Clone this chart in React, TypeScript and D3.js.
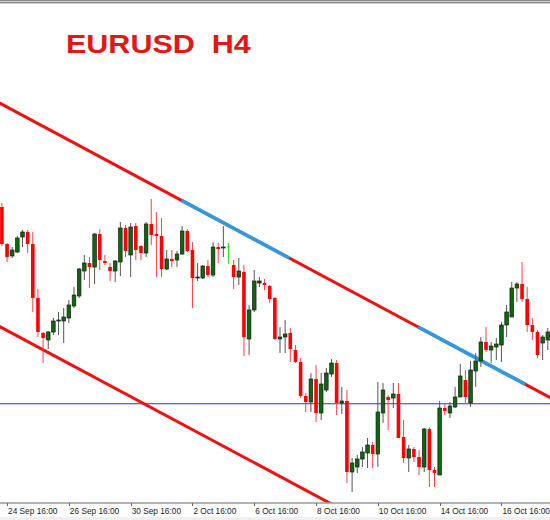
import React from "react";
import * as d3 from "d3";

// ---- data (EURUSD H4 candles) ----
const opens = [1.1793,1.1756,1.1744,1.1748,1.1763,1.1768,1.1756,1.1702,1.1667,1.1660,1.1668,1.1679,1.1679,1.1682,1.1694,1.1704,1.1729,1.1737,1.1733,1.1766,1.1739,1.1733,1.1729,1.1738,1.1772,1.1745,1.1774,1.1754,1.1747,1.1776,1.1766,1.1764,1.1731,1.1741,1.1740,1.1746,1.1769,1.1750,1.1722,1.1722,1.1734,1.1725,1.1753,1.1752,1.1753,1.1735,1.1723,1.1728,1.1661,1.1690,1.1717,1.1717,1.1714,1.1702,1.1661,1.1663,1.1667,1.1650,1.1638,1.1604,1.1598,1.1621,1.1587,1.1610,1.1626,1.1637,1.1597,1.1599,1.1528,1.1533,1.1541,1.1547,1.1555,1.1546,1.1587,1.1603,1.1602,1.1606,1.1563,1.1542,1.1551,1.1543,1.1533,1.1571,1.1530,1.1525,1.1592,1.1587,1.1593,1.1603,1.1620,1.1597,1.1629,1.1639,1.1658,1.1650,1.1653,1.1655,1.1675,1.1683,1.1712,1.1716,1.1701,1.1675,1.1668,1.1657,1.1660];
const highs = [1.1797,1.1757,1.1753,1.1764,1.1770,1.1770,1.1768,1.1711,1.1668,1.1669,1.1682,1.1688,1.1692,1.1700,1.1713,1.1732,1.1745,1.1743,1.1767,1.1771,1.1745,1.1737,1.1740,1.1778,1.1775,1.1777,1.1777,1.1755,1.1778,1.1801,1.1788,1.1782,1.1750,1.1750,1.1749,1.1774,1.1771,1.1758,1.1737,1.1735,1.1740,1.1758,1.1757,1.1774,1.1757,1.1740,1.1742,1.1735,1.1695,1.1730,1.1723,1.1721,1.1715,1.1703,1.1673,1.1680,1.1672,1.1655,1.1642,1.1607,1.1627,1.1635,1.1627,1.1632,1.1641,1.1640,1.1613,1.1610,1.1542,1.1545,1.1553,1.1562,1.1558,1.1618,1.1617,1.1605,1.1617,1.1617,1.1580,1.1555,1.1553,1.1550,1.1572,1.1573,1.1533,1.1599,1.1597,1.1598,1.1613,1.1636,1.1630,1.1639,1.1647,1.1663,1.1673,1.1658,1.1662,1.1678,1.1695,1.1718,1.1718,1.1738,1.1713,1.1682,1.1670,1.1665,1.1672];
const lows = [1.1754,1.1738,1.1742,1.1747,1.1753,1.1747,1.1688,1.1663,1.1637,1.1651,1.1665,1.1665,1.1657,1.1677,1.1692,1.1702,1.1720,1.1712,1.1716,1.1730,1.1735,1.1719,1.1718,1.1724,1.1743,1.1723,1.1740,1.1740,1.1743,1.1755,1.1723,1.1723,1.1730,1.1733,1.1733,1.1745,1.1748,1.1692,1.1719,1.1721,1.1723,1.1723,1.1737,1.1743,1.1736,1.1711,1.1715,1.1644,1.1645,1.1688,1.1713,1.1710,1.1697,1.1660,1.1647,1.1647,1.1638,1.1637,1.1602,1.1588,1.1588,1.1578,1.1580,1.1608,1.1623,1.1585,1.1586,1.1517,1.1508,1.1527,1.1533,1.1532,1.1532,1.1533,1.1577,1.1570,1.1592,1.1562,1.1537,1.1528,1.1538,1.1525,1.1528,1.1513,1.1513,1.1525,1.1585,1.1582,1.1592,1.1603,1.1597,1.1593,1.1613,1.1633,1.1648,1.1637,1.1640,1.1638,1.1663,1.1683,1.1698,1.1698,1.1668,1.1660,1.1642,1.1640,1.1650];
const closes = [1.1756,1.1743,1.1750,1.1762,1.1768,1.1756,1.1702,1.1668,1.1662,1.1668,1.1679,1.1680,1.1683,1.1695,1.1705,1.1731,1.1737,1.1733,1.1766,1.1740,1.1737,1.1729,1.1739,1.1772,1.1749,1.1773,1.1750,1.1747,1.1776,1.1765,1.1764,1.1731,1.1741,1.1739,1.1746,1.1769,1.1749,1.1722,1.1723,1.1734,1.1725,1.1753,1.1751,1.1753,1.1753,1.1723,1.1729,1.1663,1.1690,1.1719,1.1719,1.1715,1.1701,1.1661,1.1663,1.1666,1.1651,1.1638,1.1604,1.1598,1.1621,1.1587,1.1616,1.1627,1.1637,1.1597,1.1599,1.1528,1.1537,1.1541,1.1548,1.1555,1.1546,1.1588,1.1610,1.1600,1.1606,1.1562,1.1542,1.1551,1.1543,1.1533,1.1571,1.1530,1.1527,1.1592,1.1589,1.1594,1.1603,1.1624,1.1603,1.1630,1.1639,1.1658,1.1650,1.1654,1.1656,1.1675,1.1688,1.1712,1.1716,1.1701,1.1675,1.1668,1.1645,1.1663,1.1668];

const tickIndex = [1, 13, 25, 37, 49, 61, 73, 85, 97];
const tickLabels = ["24 Sep 16:00", "26 Sep 16:00", "30 Sep 16:00", "2 Oct 16:00", "6 Oct 16:00", "8 Oct 16:00", "10 Oct 16:00", "14 Oct 16:00", "16 Oct 16:00"];

// trend channel: [index, price] anchor points
const upperLine = [[0, 1.18957], [100, 1.16202]];
const lowerLine = [[0, 1.16723], [60, 1.15070]];
const blueSegments = [[34.9, 55.8], [80.8, 101.6]];
const levelPrice = 1.15965;

const W = 550, H = 520;
const plotTop = 4, plotBottom = 502.5;

export default function App() {
  const x = d3.scaleLinear().domain([0, 106]).range([1.9, 1.9 + 5.15 * 106]);
  const y = d3.scaleLinear().domain([1.148, 1.2]).range([520, 0]);
  const lineAt = (ln: number[][], i: number) => {
    const [[i0, p0], [i1, p1]] = ln;
    return p0 + (p1 - p0) * (i - i0) / (i1 - i0);
  };
  const seg = (ln: number[][], a: number, b: number) =>
    d3.line<number>().x((i) => x(i)).y((i) => y(lineAt(ln, i)))([a, b]) || "";
  const bw = 3.6;
  const ly = Math.floor(y(levelPrice));
  return (
    <svg width={W} height={H} style={{ position: "absolute", left: 0, top: 0, display: "block", background: "#fff" }}>
      <defs>
        <clipPath id="plot">
          <rect x={0} y={plotTop} width={W} height={plotBottom - plotTop} />
        </clipPath>
      </defs>
      <rect x={0} y={0} width={W} height={H} fill="#ffffff" />
      <rect x={0} y={0} width={W} height={1} fill="#8a8a8a" />
      <rect x={0} y={1} width={W} height={1} fill="#d0d0d0" />
      <rect x={0} y={2} width={W} height={1.4} fill="#8a8a8a" />

      <g clipPath="url(#plot)">
        <rect x={0} y={ly} width={W} height={1} fill="#6060ff" />
        <rect x={0} y={ly + 1} width={W} height={1} fill="#c8c8ff" />
        <path d={seg(upperLine, -2, 110)} stroke="#f01010" strokeWidth={3} fill="none" />
        <path d={seg(lowerLine, -2, 110)} stroke="#f01010" strokeWidth={3} fill="none" />
        {blueSegments.map((s, k) => (
          <path key={k} d={seg(upperLine, s[0], s[1])} stroke="#3399dd" strokeWidth={3.6} fill="none" />
        ))}
        {opens.map((o, i) => {
          const c = closes[i];
          const cx = x(i);
          const doji = o === c;
          const bull = c > o;
          const top = y(Math.max(o, c));
          const bot = y(Math.min(o, c));
          const wickCol = doji ? "#33dd33" : bull ? "#555555" : "#ff4040";
          return (
            <g key={i}>
              <line x1={cx} x2={cx} y1={y(highs[i])} y2={y(lows[i])} stroke={wickCol} strokeWidth={1} />
              {doji ? (
                <line x1={cx - bw / 2} x2={cx + bw / 2} y1={top} y2={top} stroke="#33dd33" strokeWidth={1} />
              ) : bull ? (
                <rect x={cx - bw / 2} y={top} width={bw} height={Math.max(1, bot - top)} fill="#0a6a0a" stroke="#1c1c1c" strokeWidth={0.7} />
              ) : (
                <rect x={cx - bw / 2} y={top} width={bw} height={Math.max(1, bot - top)} fill="#ff0000" />
              )}
            </g>
          );
        })}
      </g>

      <text x={66} y={53.3} fill="#e51616" style={{ whiteSpace: "pre" }} fontFamily="'Liberation Sans', Arial, sans-serif" fontWeight="bold" fontSize={25.5} textLength={184.7} lengthAdjust="spacingAndGlyphs">
        {"EURUSD  H4"}
      </text>

      <line x1={0} x2={W} y1={503} y2={503} stroke="#666" strokeWidth={1} />
      {tickIndex.map((t, k) => (
        <g key={k}>
          <line x1={Math.round(x(t)) + 0.5} x2={Math.round(x(t)) + 0.5} y1={503} y2={506} stroke="#666" strokeWidth={1} />
          <text x={x(t) + 1} y={513.5} fontFamily="'Liberation Sans', Arial, sans-serif" fontSize={8.3} fill="#222">
            {tickLabels[k]}
          </text>
        </g>
      ))}
      <rect x={0} y={517} width={W} height={3} fill="#f0f0f0" />
    </svg>
  );
}
